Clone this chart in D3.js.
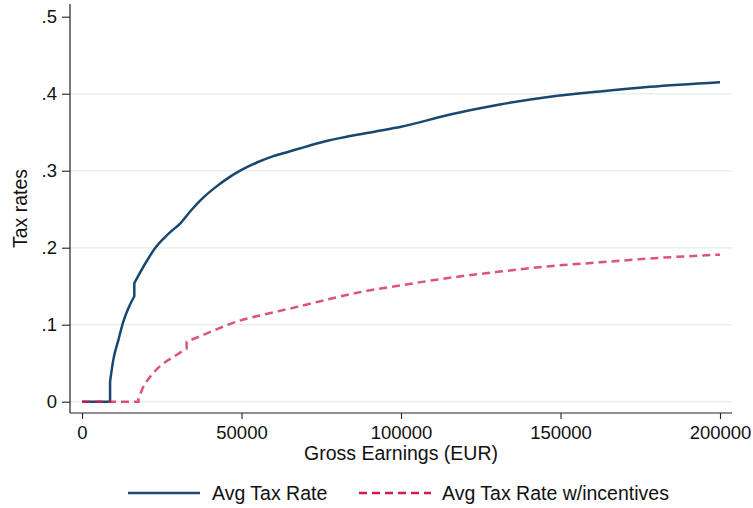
<!DOCTYPE html>
<html>
<head>
<meta charset="utf-8">
<script src="https://cdn.jsdelivr.net/npm/d3@7/dist/d3.min.js"></script>
<style>
  html, body { margin: 0; padding: 0; background: #fff; }
  svg { display: block; font-family: "Liberation Sans", Arial, Helvetica, sans-serif; }
</style>
</head>
<body>
<svg id="chart" width="753" height="508"></svg>
<script>
// Average tax rate by gross earnings (EUR)
const earnAvg = [0, 8800, 8800, 9800, 11400, 12950, 14500, 16400, 16400, 18500, 20500,
  23000, 25500, 28000, 30700, 33900, 38000, 42000, 46000, 50000, 55000, 60000, 65000, 70000,
  76000, 84000, 92000, 100000, 115400, 131000, 146700, 162400, 178000, 200000];
const rateAvg = [0, 0, 0.026, 0.054, 0.080, 0.104, 0.121, 0.137, 0.154, 0.170, 0.184,
  0.200, 0.2115, 0.2215, 0.231, 0.247, 0.265, 0.279, 0.291, 0.301, 0.311, 0.319, 0.325, 0.331,
  0.338, 0.345, 0.351, 0.357, 0.373, 0.386, 0.396, 0.403, 0.409, 0.415];

// Average tax rate with incentives
const earnInc = [0, 17700, 17700, 19200, 21300, 25000, 28600, 32800, 32800, 37000, 42200,
  48500, 56800, 63100, 68300, 76200, 89300, 99700, 115400, 131000, 146700, 162400, 178000, 200000];
const rateInc = [0, 0, 0.004, 0.019, 0.032, 0.048, 0.058, 0.069, 0.078, 0.085, 0.094,
  0.104, 0.113, 0.119, 0.124, 0.132, 0.144, 0.151, 0.161, 0.169, 0.176, 0.181, 0.186, 0.191];

const xTicks = [0, 50000, 100000, 150000, 200000];
const yTicks = [0, 0.1, 0.2, 0.3, 0.4, 0.5];
const seriesNames = ["Avg Tax Rate", "Avg Tax Rate w/incentives"];

const svg = d3.select("#chart");
const W = 753, H = 508;
svg.append("rect").attr("width", W).attr("height", H).attr("fill", "#fff");

// plot frame
const frame = { left: 70, right: 732, top: 4, bottom: 413 };
const x = d3.scaleLinear().domain([0, 200000]).range([82, 720]);
const y = d3.scaleLinear().domain([0, 0.5]).range([401.7, 16.7]);

const navy = "#1a476f";
const red = "#d01c48";
const FS_TICK = 18.5;
const FS = 19.5;

// horizontal gridlines
svg.append("g").selectAll("line").data(yTicks.filter(v => v < 0.5)).join("line")
  .attr("x1", frame.left).attr("x2", frame.right)
  .attr("y1", d => y(d)).attr("y2", d => y(d))
  .attr("stroke", "#e8eff1").attr("stroke-width", 1.5);

const fmtY = d => d === 0 ? "0" : d3.format(".1f")(d).replace(/^0/, "");

// y axis
const gy = svg.append("g").attr("transform", `translate(${frame.left},0)`)
  .call(d3.axisLeft(y).tickValues(yTicks).tickFormat(fmtY).tickSize(8).tickPadding(5));
gy.select(".domain").remove();
gy.selectAll(".tick line").attr("stroke", "#222").attr("stroke-width", 1.1);
gy.selectAll(".tick text").attr("font-size", FS_TICK).attr("fill", "#111")
  .attr("font-family", "Liberation Sans, Arial, sans-serif");

// x axis
const gx = svg.append("g").attr("transform", `translate(0,${frame.bottom})`)
  .call(d3.axisBottom(x).tickValues(xTicks).tickFormat(d3.format("d")).tickSize(6).tickPadding(7));
gx.select(".domain").remove();
gx.selectAll(".tick line").attr("stroke", "#222").attr("stroke-width", 1.1);
gx.selectAll(".tick text").attr("font-size", FS_TICK).attr("fill", "#111")
  .attr("font-family", "Liberation Sans, Arial, sans-serif");

// axis lines
svg.append("line").attr("x1", frame.left).attr("x2", frame.left).attr("y1", frame.top).attr("y2", frame.bottom)
  .attr("stroke", "#222").attr("stroke-width", 1.2);
svg.append("line").attr("x1", frame.left).attr("x2", frame.right).attr("y1", frame.bottom).attr("y2", frame.bottom)
  .attr("stroke", "#222").attr("stroke-width", 1.2);

// axis titles
svg.append("text").attr("transform", `translate(27,${(frame.top + frame.bottom) / 2}) rotate(-90)`)
  .attr("text-anchor", "middle").attr("font-size", FS).attr("fill", "#111").text("Tax rates");
svg.append("text").attr("x", (frame.left + frame.right) / 2).attr("y", 460)
  .attr("text-anchor", "middle").attr("font-size", FS).attr("fill", "#111").text("Gross Earnings (EUR)");

// Smooth path through a step-wise schedule: each run of strictly increasing
// earnings is drawn with a monotone curve, runs are joined by vertical jumps.
function stepSmoothPath(xs, ys) {
  const runs = [];
  let cur = [];
  xs.forEach((e, i) => {
    if (cur.length && e === cur[cur.length - 1][0]) { runs.push(cur); cur = []; }
    cur.push([e, ys[i]]);
  });
  runs.push(cur);
  const gen = d3.line().x(d => x(d[0])).y(d => y(d[1])).curve(d3.curveMonotoneX);
  return runs.map((r, i) => {
    const d = r.length > 1 ? gen(r) : `M${x(r[0][0])},${y(r[0][1])}`;
    return i === 0 ? d : "L" + d.slice(1);
  }).join("");
}

svg.append("path").attr("d", stepSmoothPath(earnAvg, rateAvg))
  .attr("fill", "none").attr("stroke", navy).attr("stroke-width", 2.5)
  .attr("stroke-linejoin", "round");
svg.append("path").attr("d", stepSmoothPath(earnInc, rateInc))
  .attr("fill", "none").attr("stroke", red).attr("stroke-width", 2.5)
  .attr("stroke-opacity", 0.75).attr("stroke-dasharray", "8,5");

// legend
const lg = svg.append("g");
const ly = 493;
lg.append("line").attr("x1", 128).attr("x2", 200).attr("y1", ly).attr("y2", ly)
  .attr("stroke", navy).attr("stroke-width", 2.5);
lg.append("text").attr("x", 212).attr("y", ly + 7).attr("font-size", FS).attr("fill", "#111").text(seriesNames[0]);
lg.append("line").attr("x1", 359).attr("x2", 431).attr("y1", ly).attr("y2", ly)
  .attr("stroke", red).attr("stroke-width", 2.5).attr("stroke-dasharray", "8,5");
lg.append("text").attr("x", 442).attr("y", ly + 7).attr("font-size", FS).attr("fill", "#111").text(seriesNames[1]);
</script>
</body>
</html>
